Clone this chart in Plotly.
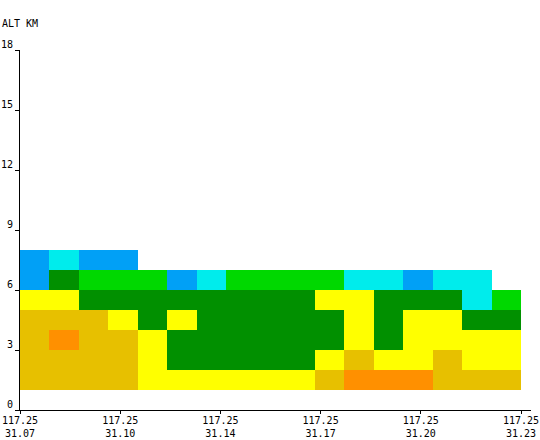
import numpy as np
import plotly.graph_objects as go

# ---- data ----
lon_labels = ["117.25", "117.25", "117.25", "117.25", "117.25", "117.25"]
lat_labels = ["31.07", "31.10", "31.14", "31.17", "31.20", "31.23"]
alt_ticks = [0, 3, 6, 9, 12, 15, 18]
alt_centers = [1.5, 2.5, 3.5, 4.5, 5.5, 6.5, 7.5]   # 1-km layers, 1..8 km
n_cols = 17                                          # profile columns along track

N = None
dbz_1_2km = [35, 35, 35, 35, 30, 30, 30, 30, 30, 30, 35, 40, 40, 40, 35, 35, 35]
dbz_2_3km = [35, 35, 35, 35, 30, 25, 25, 25, 25, 25, 30, 35, 30, 30, 35, 30, 30]
dbz_3_4km = [35, 40, 35, 35, 30, 25, 25, 25, 25, 25, 25, 30, 25, 30, 30, 30, 30]
dbz_4_5km = [35, 35, 35, 30, 25, 30, 25, 25, 25, 25, 25, 30, 25, 30, 30, 25, 25]
dbz_5_6km = [30, 30, 25, 25, 25, 25, 25, 25, 25, 25, 30, 30, 25, 25, 25, 15, 20]
dbz_6_7km = [10, 25, 20, 20, 20, 10, 15, 20, 20, 20, 20, 15, 15, 10, 15, 15, N]
dbz_7_8km = [10, 15, 10, 10, N, N, N, N, N, N, N, N, N, N, N, N, N]

dbz_levels = [10, 15, 20, 25, 30, 35, 40]
dbz_colors = ["#01A0F6", "#00ECEC", "#00D800", "#019000", "#FFFF00", "#E7C000", "#FF9000"]

# ---- build ----
z = [dbz_1_2km, dbz_2_3km, dbz_3_4km, dbz_4_5km, dbz_5_6km, dbz_6_7km, dbz_7_8km]
col_centers = np.arange(n_cols) + 0.5

nl = len(dbz_levels)
colorscale = []
for i, c in enumerate(dbz_colors):
    colorscale.append([i / nl, c])
    colorscale.append([(i + 1) / nl, c])
step = dbz_levels[1] - dbz_levels[0]
zmin = dbz_levels[0] - step / 2
zmax = dbz_levels[-1] + step / 2

W, H = 540, 440
ml, mr, mt, mb = 20, 9, 50, 30
pw = W - ml - mr
ph = H - mt - mb

fig = go.Figure(go.Heatmap(
    x=col_centers, y=alt_centers, z=z,
    colorscale=colorscale, zmin=zmin, zmax=zmax,
    showscale=False, hoverongaps=False,
))

font = dict(family="DejaVu Sans Mono", size=10, color="black")
xt = np.linspace(0, n_cols, len(lat_labels))
px_per_col = (pw - 10) / n_cols

fig.update_layout(
    width=W, height=H,
    margin=dict(l=ml, r=mr, t=mt, b=mb, pad=0, autoexpand=False),
    paper_bgcolor="white", plot_bgcolor="white",
    font=font,
    xaxis=dict(
        range=[0, n_cols + 10 / px_per_col],
        tickmode="array", tickvals=xt,
        ticktext=[f"{a}<br>{b}" for a, b in zip(lon_labels, lat_labels)],
        showline=True, linecolor="black", linewidth=1,
        ticks="outside", ticklen=3, tickcolor="black",
        showgrid=False, zeroline=False, tickfont=font,
        automargin=False, ticklabelstandoff=-2,
    ),
    yaxis=dict(
        range=[0, 18],
        tickmode="array", tickvals=alt_ticks,
        showline=True, linecolor="black", linewidth=1,
        ticks="outside", ticklen=4, tickcolor="black",
        showgrid=False, zeroline=False, tickfont=font,
        ticklabelshift=-6, ticklabelstandoff=0, automargin=False,
    ),
    annotations=[dict(
        text="ALT KM", xref="paper", yref="paper",
        x=-ml / pw, y=1 + (mt - 23.5) / ph,
        xanchor="left", yanchor="middle", showarrow=False, font=font,
    )],
)

fig.write_html("out.html")
